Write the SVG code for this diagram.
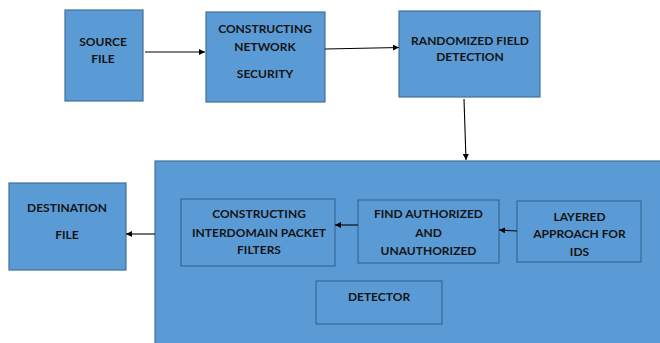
<svg xmlns="http://www.w3.org/2000/svg" width="660" height="343" viewBox="0 0 660 343">
  <style>
    .box { fill: #5b9bd5; stroke: #41719c; stroke-width: 1.2; }
    .inner { fill: #5b9bd5; stroke: #2f5f8a; stroke-width: 1; }
    .lbl { font-family: Lato, "Open Sans", "Liberation Sans", sans-serif; font-weight: bold; font-size: 12px; fill: #141414; text-anchor: middle; }
    .conn { stroke: #000; stroke-width: 1.1; fill: none; marker-end: url(#arrow); }
  </style>
  <defs>
    <marker id="arrow" viewBox="0 0 8 8" refX="8" refY="4" markerWidth="6" markerHeight="6" markerUnits="userSpaceOnUse" orient="auto">
      <path d="M0,0 L8,4 L0,8 Z" fill="#000"/>
    </marker>
  </defs>
  <rect width="660" height="343" fill="#ffffff"/>

  <g id="source-file">
    <rect class="box" x="65" y="10" width="78" height="91"/>
    <text class="lbl" x="103" y="46">SOURCE</text>
    <text class="lbl" x="103" y="62.5">FILE</text>
  </g>

  <g id="constructing-network-security">
    <rect class="box" x="206" y="12" width="119" height="90"/>
    <text class="lbl" x="265" y="33">CONSTRUCTING</text>
    <text class="lbl" x="265" y="50.5">NETWORK</text>
    <text class="lbl" x="265" y="78">SECURITY</text>
  </g>

  <g id="randomized-field-detection">
    <rect class="box" x="399" y="11" width="141" height="86"/>
    <text class="lbl" x="470" y="44.5">RANDOMIZED FIELD</text>
    <text class="lbl" x="470" y="61">DETECTION</text>
  </g>

  <g id="detection-stage">
    <rect class="box" x="155" y="161" width="510" height="190"/>
  </g>

  <g id="interdomain-packet-filters">
    <rect class="inner" x="181" y="199" width="154" height="67"/>
    <text class="lbl" x="259" y="218.3">CONSTRUCTING</text>
    <text class="lbl" x="259" y="237.3">INTERDOMAIN PACKET</text>
    <text class="lbl" x="259" y="254">FILTERS</text>
  </g>

  <g id="find-authorized">
    <rect class="inner" x="358" y="200" width="141" height="63"/>
    <text class="lbl" x="428.5" y="218.3">FIND AUTHORIZED</text>
    <text class="lbl" x="428.5" y="237.3">AND</text>
    <text class="lbl" x="428.5" y="255">UNAUTHORIZED</text>
  </g>

  <g id="layered-approach">
    <rect class="inner" x="517" y="201" width="124" height="61"/>
    <text class="lbl" x="579.5" y="220.7">LAYERED</text>
    <text class="lbl" x="579.5" y="238.3">APPROACH FOR</text>
    <text class="lbl" x="579.5" y="255.7">IDS</text>
  </g>

  <g id="detector">
    <rect class="inner" x="316" y="281" width="126" height="43"/>
    <text class="lbl" x="379" y="300.7">DETECTOR</text>
  </g>

  <g id="destination-file">
    <rect class="box" x="9" y="183" width="117" height="87"/>
    <text class="lbl" x="67" y="211.7">DESTINATION</text>
    <text class="lbl" x="67" y="239.3">FILE</text>
  </g>

  <g id="connectors">
    <line class="conn" x1="145" y1="52" x2="205" y2="52"/>
    <line class="conn" x1="325" y1="49" x2="399" y2="47.5"/>
    <line class="conn" x1="464" y1="99" x2="466" y2="160"/>
    <line class="conn" x1="155" y1="234" x2="126" y2="234"/>
    <line class="conn" x1="358" y1="225" x2="335" y2="225"/>
    <line class="conn" x1="517" y1="231" x2="499" y2="230"/>
  </g>
</svg>
